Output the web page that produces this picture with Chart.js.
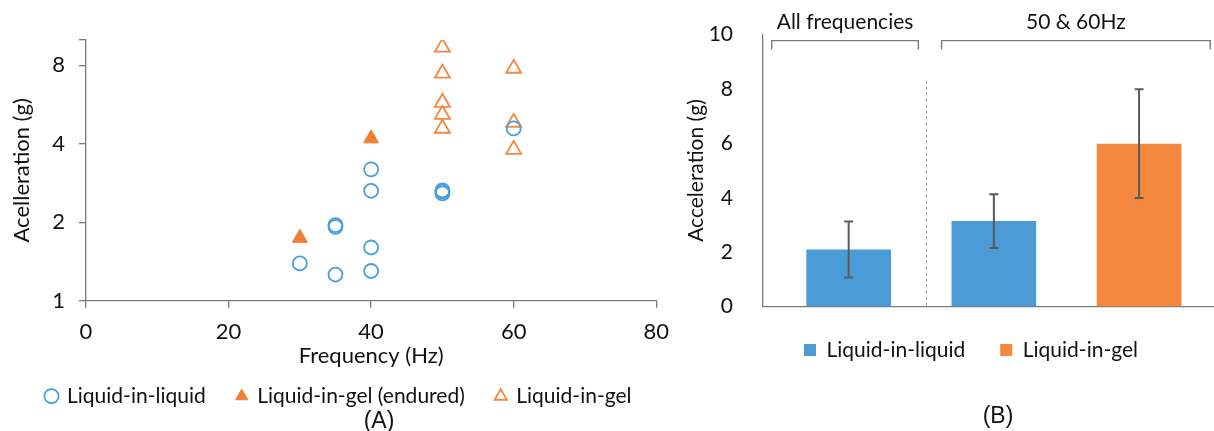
<!DOCTYPE html>
<html><head><meta charset="utf-8">
<script src="https://cdn.jsdelivr.net/npm/chart.js@4.4.1/dist/chart.umd.min.js"></script>
<style>
html,body{margin:0;padding:0;background:#fff;}
#wrap{position:relative;width:1214px;height:431px;overflow:hidden;background:#fff;}
#boxA{position:absolute;left:0;top:0;width:680px;height:431px;}
#boxB{position:absolute;left:680px;top:0;width:534px;height:431px;}
canvas{display:block;}
.panel{position:absolute;font-family:"Liberation Sans",Arial,sans-serif;font-size:23px;line-height:1;color:#111;transform:translate(-50%,-50%);white-space:nowrap;}
</style></head><body>
<div id="wrap">
 <div id="boxA"><canvas id="chartA" width="680" height="431" style="width:680px;height:431px"></canvas></div>
 <div id="boxB"><canvas id="chartB" width="534" height="431" style="width:534px;height:431px"></canvas></div>
 <div class="panel" style="left:379px;top:420px">(A)</div>
 <div class="panel" style="left:998px;top:415px">(B)</div>
</div>
<script>
// ---------- Panel A data ----------
const freqTicks = [0, 20, 40, 60, 80];
const accTicksA = [1, 2, 4, 8];
const seriesA = ['Liquid-in-liquid', 'Liquid-in-gel (endured)', 'Liquid-in-gel'];
const lilFreq = [30, 35, 35, 35, 40, 40, 40, 40, 50, 50, 50, 60];
const lilAcc  = [1.39, 1.26, 1.92, 1.95, 1.30, 1.60, 2.64, 3.19, 2.58, 2.62, 2.65, 4.58];
const endFreq = [30, 40];
const endAcc  = [1.74, 4.19];
const ligFreq = [50, 50, 50, 50, 50, 60, 60, 60];
const ligAcc  = [9.37, 7.45, 5.76, 5.18, 4.58, 7.78, 4.83, 3.80];

// ---------- Panel B data ----------
const barCategories = ['All frequencies: Liquid-in-liquid', '50 & 60Hz: Liquid-in-liquid', '50 & 60Hz: Liquid-in-gel'];
const barSeries = ['Liquid-in-liquid', 'Liquid-in-gel'];
const lilMean = [2.10, 3.14, null];
const lilErr  = [1.03, 0.99, null];
const ligMean = [null, null, 5.99];
const ligErr  = [null, null, 2.00];
const accTicksB = [0, 2, 4, 6, 8, 10];
const groupLabels = ['All frequencies', '50 & 60Hz'];

// ---------- layout / style constants ----------
const FONT = 'Lato, "Noto Sans", sans-serif';
const TXT = '#111111';
const AX = '#7a7a7a';
const BLUE = '#4A9EDC';
const BLUE_BAR = '#4A9BD6';
const ORANGE = '#F4883F';
const ORANGE_FILL = '#F07F35';
const FS_A = 22, FS_B = 21;
const bracketSpans = [[-0.53, 0.48], [0.64, 2.49]];
const bracketTop = 9.78, bracketTip = 9.45, groupLabelLevel = 10.44;
const dividerAt = 0.532, dividerTop = 8.31;

Chart.defaults.font.family = FONT;
Chart.defaults.color = TXT;
Chart.defaults.animation = false;

function legendTweak(id, height, dx, dy) {
  return {
    id,
    beforeLayout(chart) {
      const lg = chart.legend;
      if (lg && !lg.__patched) {
        const f = lg.fit;
        lg.fit = function () { f.call(this); this.height = height; };
        lg.__patched = true;
      }
    },
    afterLayout(chart) {
      const lg = chart.legend;
      if (lg) { lg.left += dx; lg.right += dx; lg.top += dy; lg.bottom += dy; }
    }
  };
}

const pts = (xs, ys) => xs.map((x, i) => ({ x, y: ys[i] }));

// ---------- Chart A ----------
new Chart(document.getElementById('chartA'), {
  type: 'scatter',
  data: {
    datasets: [
      { label: seriesA[0], data: pts(lilFreq, lilAcc), pointStyle: 'circle', pointRadius: 7, pointHoverRadius: 7,
        borderColor: BLUE, backgroundColor: 'rgba(255,255,255,0)', borderWidth: 1.8, pointBorderWidth: 1.8 },
      { label: seriesA[1], data: pts(endFreq, endAcc), pointStyle: 'triangle', pointRadius: 8.7, pointHoverRadius: 8.7,
        borderColor: ORANGE_FILL, backgroundColor: ORANGE_FILL, borderWidth: 1, pointBorderWidth: 1 },
      { label: seriesA[2], data: pts(ligFreq, ligAcc), pointStyle: 'triangle', pointRadius: 8.7, pointHoverRadius: 8.7,
        borderColor: ORANGE, backgroundColor: 'rgba(255,255,255,0)', borderWidth: 1.8, pointBorderWidth: 1.8 }
    ]
  },
  options: {
    responsive: false, animation: false, events: [],
    layout: { padding: { left: 0, top: 40, right: 18, bottom: 0 } },
    plugins: {
      legend: { position: 'bottom',
        labels: { usePointStyle: true, boxWidth: 10, boxHeight: 10, padding: 31, font: { size: 21 }, color: TXT } },
      tooltip: { enabled: false }
    },
    scales: {
      x: {
        type: 'linear', min: freqTicks[0], max: freqTicks[freqTicks.length - 1],
        afterBuildTicks: s => { s.ticks = freqTicks.map(v => ({ value: v })); },
        ticks: { font: { size: FS_A }, padding: 11, color: TXT, autoSkip: false, maxRotation: 0 },
        grid: { display: true, drawOnChartArea: false, drawTicks: true, tickLength: 7, color: AX, lineWidth: 1.3 },
        border: { display: true, color: AX, width: 1.3 },
        title: { display: true, text: 'Frequency (Hz)', font: { size: FS_A }, color: TXT, padding: { top: 0, bottom: 2 } },
        afterFit: s => { s.height = 70; }
      },
      y: {
        type: 'logarithmic', min: 1, max: 10,
        afterBuildTicks: s => { s.ticks = accTicksA.concat([10]).map(v => ({ value: v })); },
        ticks: { callback: v => accTicksA.includes(v) ? String(v) : '', font: { size: FS_A }, padding: 14, color: TXT, autoSkip: false },
        grid: { display: true, drawOnChartArea: false, drawTicks: true, tickLength: 7, color: AX, lineWidth: 1.3 },
        border: { display: true, color: AX, width: 1.3 },
        title: { display: true, text: 'Acelleration (g)', font: { size: FS_A }, color: TXT, padding: { top: 9, bottom: 0 } },
        afterFit: s => { s.width = 86; }
      }
    }
  },
  plugins: [legendTweak('lgA', 60.3, 8, -16)]
});

// ---------- Chart B ----------
const idxPts = arr => arr.map((v, i) => v == null ? null : { x: i, y: v }).filter(Boolean);

const errorBars = {
  id: 'errorBars',
  afterDatasetsDraw(chart) {
    const { ctx, scales: { y } } = chart;
    ctx.save();
    ctx.strokeStyle = '#5a5a5a';
    ctx.lineWidth = 2;
    chart.data.datasets.forEach((ds, di) => {
      const meta = chart.getDatasetMeta(di);
      meta.data.forEach((el, i) => {
        const p = ds.data[i];
        const e = ds.errors[p.x];
        if (e == null) return;
        const yt = y.getPixelForValue(p.y + e), yb = y.getPixelForValue(p.y - e);
        ctx.beginPath();
        ctx.moveTo(el.x, yt); ctx.lineTo(el.x, yb);
        ctx.moveTo(el.x - 4.5, yt); ctx.lineTo(el.x + 4.5, yt);
        ctx.moveTo(el.x - 4.5, yb); ctx.lineTo(el.x + 4.5, yb);
        ctx.stroke();
      });
    });
    ctx.restore();
  }
};

const groupMarks = {
  id: 'groupMarks',
  afterDraw(chart) {
    const { ctx, scales: { x, y } } = chart;
    ctx.save();
    ctx.strokeStyle = '#9a9a9a';
    ctx.lineWidth = 1;
    ctx.setLineDash([3, 3]);
    const dx = Math.round(x.getPixelForValue(dividerAt)) + 0.5;
    ctx.beginPath();
    ctx.moveTo(dx, y.getPixelForValue(dividerTop));
    ctx.lineTo(dx, y.getPixelForValue(0));
    ctx.stroke();
    ctx.setLineDash([]);
    ctx.strokeStyle = AX;
    ctx.lineWidth = 1.4;
    bracketSpans.forEach((sp, k) => {
      const x0 = x.getPixelForValue(sp[0]), x1 = x.getPixelForValue(sp[1]);
      const yT = y.getPixelForValue(bracketTop), yP = y.getPixelForValue(bracketTip);
      ctx.beginPath();
      ctx.moveTo(x0, yP); ctx.lineTo(x0, yT); ctx.lineTo(x1, yT); ctx.lineTo(x1, yP);
      ctx.stroke();
      ctx.fillStyle = TXT;
      ctx.font = FS_B + 'px ' + FONT;
      ctx.textAlign = 'center';
      ctx.textBaseline = 'middle';
      ctx.fillText(groupLabels[k], (x0 + x1) / 2, y.getPixelForValue(groupLabelLevel));
    });
    ctx.restore();
  }
};

new Chart(document.getElementById('chartB'), {
  type: 'bar',
  data: {
    labels: barCategories,
    datasets: [
      { label: barSeries[0], data: idxPts(lilMean), errors: lilErr, backgroundColor: BLUE_BAR, borderWidth: 0,
        grouped: false, barPercentage: 0.583, categoryPercentage: 1 },
      { label: barSeries[1], data: idxPts(ligMean), errors: ligErr, backgroundColor: ORANGE, borderWidth: 0,
        grouped: false, barPercentage: 0.583, categoryPercentage: 1 }
    ]
  },
  options: {
    responsive: false, animation: false, events: [],
    layout: { padding: { left: 0, top: 34, right: 0, bottom: 0 } },
    plugins: {
      legend: { position: 'bottom',
        labels: { boxWidth: 12, boxHeight: 12, padding: 35, font: { size: FS_B }, color: TXT } },
      tooltip: { enabled: false }
    },
    scales: {
      x: {
        type: 'linear', min: -0.59, max: 2.516, offset: false,
        afterBuildTicks: s => { s.ticks = barCategories.map((c, i) => ({ value: i })); },
        ticks: { display: false },
        grid: { display: false, offset: false },
        border: { display: true, color: AX, width: 1.3 },
        afterFit: s => { s.height = 20; }
      },
      y: {
        min: accTicksB[0], max: accTicksB[accTicksB.length - 1],
        afterBuildTicks: s => { s.ticks = accTicksB.map(v => ({ value: v })); },
        ticks: { font: { size: FS_B }, padding: 22, color: TXT },
        grid: { display: false },
        border: { display: true, color: AX, width: 1.3 },
        title: { display: true, text: 'Acceleration (g)', font: { size: FS_B }, color: TXT, padding: { top: 4, bottom: 0 } },
        afterFit: s => { s.width = 83; }
      }
    }
  },
  plugins: [errorBars, groupMarks, legendTweak('lgB', 104.5, 24, -22)]
});
</script>
</body></html>
